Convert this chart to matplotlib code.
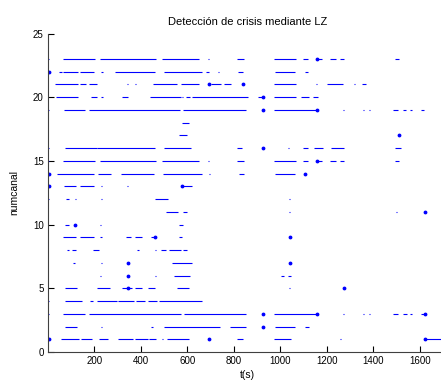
# -*- coding: utf-8 -*-
import matplotlib
matplotlib.use('Agg')
import matplotlib.pyplot as plt

# detected intervals (start, end) in seconds for every channel
c1 = [(57, 132), (142, 190), (218, 260), (302, 365), (374, 431), (435, 464), (490, 494),
      (514, 608), (815, 838), (971, 1045), (1255, 1259), (1623, 1700)]
c2 = [(72, 125), (229, 234), (442, 452), (499, 742), (785, 851), (975, 1062), (1106, 1121)]
c3 = [(1, 4), (67, 161), (175, 571), (586, 852), (971, 1159), (1268, 1272), (1354, 1358),
      (1383, 1387), (1484, 1504), (1529, 1543), (1557, 1565), (1604, 1620)]
c4 = [(1, 4), (72, 147), (182, 194), (212, 298), (301, 370), (381, 420), (432, 471), (478, 662)]
c5 = [(72, 125), (212, 269), (320, 362), (377, 406), (430, 460), (555, 608), (1037, 1042)]
c6 = [(224, 228), (461, 465), (544, 610), (1003, 1015), (1031, 1046)]
c7 = [(110, 116), (228, 232), (536, 619)]
c8 = [(82, 93), (103, 121), (194, 219), (385, 391), (459, 465), (485, 507), (521, 571), (581, 600)]
c9 = [(66, 122), (139, 197), (223, 234), (336, 356), (374, 405), (442, 458), (562, 579)]
c10 = [(75, 91), (223, 229), (562, 580)]
c11 = [(507, 558), (583, 598), (1037, 1041), (1498, 1503)]
c12 = [(1, 4), (78, 93), (115, 121), (229, 235), (459, 518), (1036, 1041)]
c13 = [(70, 122), (140, 197), (230, 234), (339, 343), (583, 620)]
c14 = [(39, 197), (216, 272), (316, 456), (497, 662), (692, 696), (823, 842), (975, 1064)]
c15 = [(1, 4), (65, 204), (223, 464), (490, 651), (689, 693), (814, 845), (971, 1068),
       (1097, 1119), (1160, 1178), (1215, 1240), (1258, 1274), (1493, 1512)]
c16 = [(1, 4), (72, 211), (213, 463), (499, 615), (813, 833), (1032, 1039), (1096, 1120),
       (1145, 1182), (1216, 1272), (1492, 1518)]
c17 = [(565, 597)]
c18 = [(576, 609)]
c19 = [(1, 4), (68, 161), (175, 568), (583, 852), (971, 1159), (1268, 1272), (1354, 1358),
       (1383, 1387), (1485, 1505), (1529, 1542), (1557, 1565), (1606, 1619)]
c20 = [(36, 130), (187, 212), (230, 236), (320, 345), (439, 571), (577, 581), (593, 612),
       (622, 860), (903, 925), (972, 1067), (1087, 1121), (1140, 1162)]
c21 = [(32, 130), (140, 166), (175, 211), (339, 343), (375, 379), (452, 557), (571, 651),
       (701, 744), (758, 787), (972, 1067), (1153, 1157), (1202, 1270), (1318, 1322), (1353, 1368)]
c22 = [(49, 60), (67, 130), (140, 197), (230, 236), (291, 463), (499, 661), (682, 691),
       (730, 737), (816, 838), (975, 1064), (1104, 1119)]
c23 = [(1, 4), (65, 204), (223, 464), (490, 651), (689, 693), (814, 845), (971, 1068),
       (1097, 1119), (1160, 1178), (1215, 1240), (1258, 1274), (1493, 1512)]

channels = [c1, c2, c3, c4, c5, c6, c7, c8, c9, c10, c11, c12,
            c13, c14, c15, c16, c17, c18, c19, c20, c21, c22, c23]

# isolated detections (single windows)
dot_t = [3, 694, 1620, 927, 927, 1159, 1622, 345, 1274, 345, 345, 1041, 461, 1041,
         118, 1623, 3, 578, 3, 1107, 1159, 927, 1508, 927, 1159, 927, 694, 841, 3, 1159]
dot_ch = [1, 1, 1, 2, 3, 3, 3, 5, 5, 6, 7, 7, 9, 9,
          10, 11, 13, 13, 14, 14, 15, 16, 17, 19, 19, 20, 21, 21, 22, 23]

plt.rcParams['font.family'] = ['Liberation Sans', 'DejaVu Sans']

fig = plt.figure(figsize=(4.41, 3.83), dpi=100)
ax = fig.add_axes([0.1084, 0.0809, 0.9076, 0.8316])

for ch, segs in enumerate(channels, start=1):
    for t0, t1 in segs:
        ax.hlines(ch, t0, t1, colors='#0000ff', linewidth=0.8)
ax.plot(dot_t, dot_ch, '.', color='#0000ff', markersize=3.5, linestyle='none')

ax.set_xlim(0, 1721)
ax.set_ylim(0, 25)
ax.set_xticks(range(200, 1601, 200))
ax.set_yticks(range(0, 26, 5))
ax.tick_params(direction='in', length=4, width=0.8, labelsize=7, pad=3)
ax.spines['top'].set_visible(False)
ax.spines['right'].set_visible(False)
ax.spines['left'].set_color('#404040')
ax.spines['bottom'].set_color('#404040')

ax.set_title('Detección de crisis mediante LZ', fontsize=8, pad=6)
ax.set_xlabel('t(s)', fontsize=7.5, labelpad=3)
ax.set_ylabel('numcanal', fontsize=7.5, labelpad=10)

plt.savefig('out.png', dpi=100)
